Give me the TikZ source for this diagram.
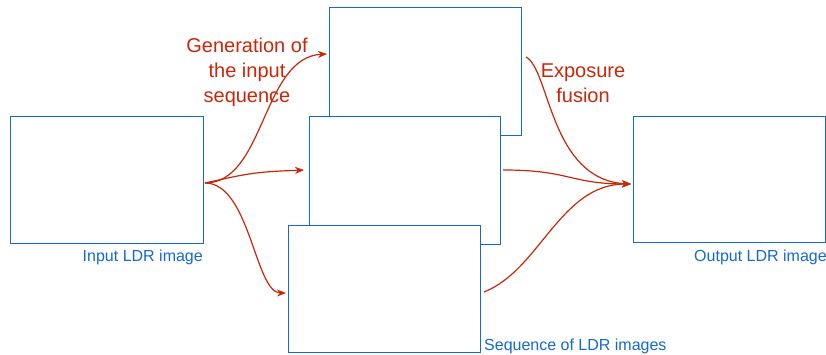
\documentclass[tikz,border=0pt]{standalone}
\usepackage{fontspec}
\setmainfont{Liberation Sans}
\usetikzlibrary{arrows.meta}
\definecolor{boxblue}{RGB}{20,105,210}
\definecolor{arrred}{RGB}{200,40,10}
\begin{document}
\begin{tikzpicture}[x=1pt,y=1pt,
  imgbox/.style={draw=boxblue,line width=1.4pt,fill=white,inner sep=0pt,anchor=north west},
  flow/.style={draw=arrred,line width=1.2pt,-{Stealth[length=9pt,width=7pt]}},
  bluelbl/.style={text=boxblue,font=\fontsize{16}{19}\selectfont,inner sep=0pt},
  redlbl/.style={text=arrred,font=\fontsize{20}{25}\selectfont,inner sep=0pt,align=center}]
\useasboundingbox (0,0) rectangle (826,355);
% boxes (y = 355 - pixel y)
\node[imgbox,minimum width=193pt,minimum height=127pt] (inp) at (10,239) {};
\node[imgbox,minimum width=192pt,minimum height=128pt] (top) at (329,348) {};
\node[imgbox,minimum width=191pt,minimum height=128pt] (mid) at (309,239) {};
\node[imgbox,minimum width=192pt,minimum height=127pt] (bot) at (288,130) {};
\node[imgbox,minimum width=192pt,minimum height=126pt] (out) at (633,239) {};
% labels
\node[bluelbl,anchor=east] (linp) at (203,98) {Input LDR image};
\node[bluelbl,anchor=west] (lout) at (694,98) {Output LDR image};
\node[bluelbl,anchor=west] (lseq) at (484,9) {Sequence of LDR images};
\node[redlbl] (lgen) at (247,283) {Generation of\\the input\\sequence};
\node[redlbl] (lfus) at (583,272) {Exposure\\fusion};
% connector points
\coordinate (s) at (205,172);
\coordinate (t1) at (327,301);
\coordinate (t2) at (304,185);
\coordinate (t3) at (286,62);
\coordinate (u1) at (526,298);
\coordinate (u2) at (503,185);
\coordinate (u3) at (484,63);
\coordinate (e) at (631,171);
% arrows
\draw[flow] (s) .. controls (265,172) and (262,298) .. (t1);
\draw[flow] (s) .. controls (250,182) and (255,183) .. (t2);
\draw[flow] (s) .. controls (250,172) and (255,62) .. (t3);
\draw[flow] (u1) .. controls (550,285) and (550,175) .. (e);
\draw[flow] (u2) .. controls (570,185) and (570,171) .. (e);
\draw[flow] (u3) .. controls (540,85) and (560,171) .. (e);
\end{tikzpicture}
\end{document}
